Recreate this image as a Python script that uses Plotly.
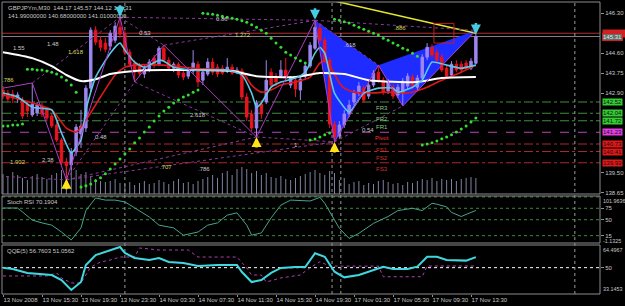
import plotly.graph_objects as go

# ---------------- data ----------------
header1 = "GBPJPYm,M30  144.17 145.57 144.12 145.31"
header2 = "141.99000000 140.68000000 141.01000000"
stoch_title = "Stoch RSI 70.1904"
qqe_title = "QQE(5) 56.7603 51.0562"

time_labels = ["13 Nov 2008", "13 Nov 15:30", "13 Nov 19:30", "13 Nov 23:30", "14 Nov 03:30",
               "14 Nov 07:30", "14 Nov 11:30", "14 Nov 15:30", "14 Nov 19:30", "17 Nov 01:30",
               "17 Nov 05:30", "17 Nov 09:30", "17 Nov 13:30"]
label_bars = [0, 8, 16, 24, 32, 40, 48, 56, 64, 72, 80, 88, 96]

opens = [143.03, 142.90, 142.86, 142.65, 142.60, 142.43, 141.97, 142.05, 142.35, 142.18,
         141.92, 141.54, 140.90, 139.97, 139.84, 140.39, 141.16, 141.41, 143.11, 145.58,
         145.15, 145.03, 144.90, 145.15, 145.70, 145.41, 144.64, 144.18, 144.05, 143.71,
         143.88, 144.39, 144.13, 144.81, 144.30, 143.96, 144.13, 143.75, 143.62, 143.84,
         144.13, 143.45, 143.71, 144.22, 144.00, 143.96, 143.84, 144.00, 143.75, 143.84,
         142.73, 142.01, 141.41, 142.43, 142.52, 143.79, 143.62, 143.62, 143.88, 143.24,
         143.45, 143.03, 143.62, 144.05, 144.81, 145.66, 145.15, 144.30, 141.58, 141.07,
         141.54, 142.01, 142.52, 142.90, 143.11, 142.77, 143.24, 143.79, 143.45, 142.99,
         143.15, 142.82, 142.90, 143.20, 143.58, 143.15, 143.54, 144.43, 144.85, 144.64,
         144.43, 143.96, 143.67, 144.13, 144.13, 144.18, 143.96, 144.17]
highs = [143.20, 143.03, 143.03, 142.94, 142.73, 142.56, 143.33, 142.52, 142.48, 142.30,
         142.05, 141.67, 140.99, 140.14, 140.56, 141.58, 142.18, 143.24, 145.70, 145.75,
         145.32, 145.24, 145.58, 145.92, 146.13, 145.58, 144.77, 144.30, 144.18, 144.09,
         144.35, 144.52, 144.90, 144.94, 144.43, 144.22, 144.22, 143.88, 144.00, 144.73,
         144.26, 143.96, 144.39, 144.39, 144.13, 144.09, 144.39, 144.13, 144.00, 143.96,
         142.90, 142.18, 142.60, 142.60, 144.30, 143.96, 143.75, 144.30, 144.39, 143.62,
         143.58, 143.62, 144.22, 145.07, 146.00, 145.87, 145.28, 144.43, 141.71, 141.71,
         142.18, 142.60, 143.03, 143.37, 143.24, 143.45, 143.88, 144.09, 143.58, 143.50,
         143.28, 143.28, 143.54, 143.75, 143.71, 143.67, 144.56, 145.03, 144.98, 144.77,
         144.56, 144.09, 144.26, 144.30, 144.26, 144.30, 144.39, 145.57]
lows = [142.65, 142.52, 142.48, 142.48, 141.80, 141.88, 141.88, 141.92, 141.88, 141.71,
        141.41, 140.82, 139.84, 139.20, 139.63, 140.22, 140.56, 141.24, 142.94, 144.94,
        144.68, 144.64, 144.73, 145.03, 145.24, 144.52, 144.00, 143.37, 143.62, 143.54,
        143.79, 143.96, 144.05, 144.22, 143.84, 143.79, 143.54, 143.45, 143.50, 143.71,
        143.15, 143.24, 143.62, 143.67, 143.58, 143.67, 143.75, 143.67, 143.71, 142.60,
        141.71, 141.28, 141.03, 141.80, 142.43, 143.11, 143.20, 143.54, 143.45, 143.11,
        142.73, 142.60, 143.45, 143.96, 144.73, 145.07, 144.18, 141.41, 140.82, 140.95,
        141.41, 141.88, 142.39, 142.77, 142.48, 142.65, 143.15, 143.33, 142.82, 142.86,
        142.65, 142.69, 142.35, 143.07, 143.07, 143.03, 143.45, 144.30, 144.43, 144.22,
        143.79, 143.54, 143.58, 143.79, 143.79, 143.88, 143.88, 144.12]
closes = [142.77, 142.65, 142.69, 142.82, 141.92, 142.14, 142.43, 142.39, 142.01, 141.84,
          141.50, 140.90, 139.97, 139.80, 140.39, 141.45, 141.50, 143.11, 145.58, 145.07,
          144.85, 144.77, 145.45, 145.75, 145.41, 144.64, 144.13, 143.79, 143.75, 143.96,
          144.22, 144.09, 144.81, 144.30, 143.96, 144.13, 143.67, 143.58, 143.88, 144.18,
          143.37, 143.79, 144.22, 143.79, 143.71, 143.75, 144.00, 143.75, 143.88, 142.73,
          141.88, 141.41, 142.48, 142.01, 143.45, 143.24, 143.37, 143.88, 143.54, 143.54,
          143.07, 143.50, 144.05, 144.94, 145.70, 145.15, 144.30, 141.58, 141.03, 141.54,
          142.01, 142.39, 142.90, 143.20, 142.60, 143.24, 143.75, 143.45, 142.94, 143.37,
          142.77, 143.15, 143.41, 143.62, 143.20, 143.54, 144.43, 144.85, 144.52, 144.30,
          143.88, 143.62, 144.13, 143.88, 143.88, 143.96, 144.26, 145.31]
volumes = [200, 180, 220, 190, 160, 140, 180, 200, 170, 150, 190, 210, 240,
           270, 260, 240, 200, 220, 180, 150, 130,
           120, 130, 150, 110, 100, 120, 90, 110, 130, 100, 110, 140, 120, 100, 130, 150, 110, 120, 100, 130,
           150, 170, 190, 160, 210, 230, 190, 250,
           270, 250, 210, 230, 190, 210, 170, 160, 180, 150, 140, 160,
           180, 200, 220, 240, 210, 190, 230, 210, 140, 160,
           100, 120, 130, 90, 110, 100, 130, 140, 120, 100, 110, 90, 120, 110, 130,
           150, 140, 160, 130, 150, 140, 150, 130, 150, 160, 170, 160]

sar = [141.50, 141.50, 141.54, 141.54, 141.58,
       143.92, 143.92, 143.88, 143.88, 143.84, 143.79, 143.71, 143.58, 143.45, 143.24, 142.94,
       138.90, 138.95, 139.03, 139.16, 139.29, 139.46, 139.67, 139.88, 140.09, 140.31, 140.52,
       140.78, 140.99, 141.24, 141.45, 141.71, 141.92, 142.14, 142.30, 142.48, 142.60, 142.73,
       142.82, 142.94, 143.03,
       146.30, 146.28, 146.26, 146.22, 146.17, 146.13, 146.09, 146.05, 145.98, 145.92, 145.81,
       145.70, 145.58, 145.45, 145.24, 145.03, 144.85, 144.64, 144.52, 144.39, 144.28, 144.18,
       140.90, 140.94, 141.03, 141.12, 141.20,
       146.05, 146.00, 145.94, 145.88, 145.79, 145.70, 145.62, 145.53, 145.45, 145.37, 145.24,
       145.15, 145.03, 144.94, 144.81, 144.73, 144.60, 144.47,
       140.69, 140.73, 140.78, 140.86, 140.95, 141.03, 141.12, 141.24, 141.37, 141.50, 141.67, 141.84]

white_b = [0, 6, 10, 13, 16, 19, 22, 27, 33, 47, 52, 60, 65, 70, 75, 85, 90, 97]
white_p = [144.64, 144.39, 144.05, 143.67, 143.41, 143.49, 143.71, 143.84, 143.88, 143.84,
           143.62, 143.58, 143.75, 143.71, 143.45, 143.37, 143.54, 143.58]
red_b = [0, 6, 10, 13, 15, 17, 20, 23, 25, 27, 33, 39, 49, 51, 53, 55, 57, 60, 63, 64, 65, 66,
         67, 68, 69, 70, 72, 75, 79, 83, 87, 90, 94, 97]
red_p = [142.82, 142.48, 142.18, 141.41, 141.24, 141.75, 142.73, 143.67, 144.00, 144.09, 144.09,
         143.96, 143.79, 143.24, 142.94, 143.03, 143.24, 143.37, 143.58, 143.88, 144.18, 144.26,
         144.09, 143.71, 143.33, 143.11, 142.94, 142.90, 142.94, 142.90, 143.15, 143.45, 143.79, 144.09]
cyan_b = [0, 3, 6, 10, 12, 14, 16, 17, 19, 22, 24, 25, 27, 29, 32, 33, 35, 39, 46, 49, 51, 52, 53,
          55, 57, 60, 62, 64, 65, 66, 68, 71, 74, 77, 80, 81, 84, 86, 88, 91, 94, 97]
cyan_p = [142.90, 142.73, 142.30, 142.18, 141.20, 140.35, 140.90, 142.18, 143.58, 144.60, 145.03,
          144.73, 144.22, 144.00, 144.30, 144.26, 144.00, 143.88, 143.88, 143.67, 142.90, 142.30,
          142.48, 143.15, 143.37, 143.54, 143.79, 144.60, 144.85, 144.60, 142.90, 142.09, 142.90,
          143.11, 143.11, 142.94, 143.15, 143.45, 144.22, 144.09, 143.96, 144.09]

zz_b = [0, 6, 13, 24, 27, 33, 52, 64, 68, 77, 82, 97]
zz_p = [143.11, 143.33, 139.20, 146.13, 143.37, 144.94, 141.03, 146.00, 140.82, 144.09, 142.35, 145.57]
fib_pairs = [(1, 3), (2, 4), (3, 5), (4, 6), (5, 7), (6, 8), (7, 9), (8, 10), (3, 7), (7, 11), (2, 6), (2, 8)]
fib_ext_b = [-8]
fib_ext_p = [139.45]
tri1 = [7, 8, 9]
tri2 = [9, 10, 11]

fib_text = ["1.55", "1.48", "1.618", ".786", "0.53", "0.86", "1.272", ".618", ".886", "2.618",
            "0.48", "1.902", "2.38", ".707", ".786", "1", "0.54"]
fib_bar = [3.2, 10.3, 15, 1, 29.1, 44.9, 49.2, 71.2, 81.4, 40, 20.1, 3.1, 9.2, 33.4, 41.2, 60, 74.9]
fib_price = [144.81, 144.98, 144.64, 143.45, 145.45, 146.05, 145.37, 144.94, 145.66, 141.97,
             141.03, 139.97, 140.05, 139.76, 139.67, 140.69, 141.33]
fib_yellow = [False, False, True, True, False, False, True, False, True, False,
              False, True, False, True, False, False, False]

yl_b = [60, 97]
yl_p = [147.20, 145.45]
box_b = [88.4, 92.5]
box_p = [145.03, 145.87]

dn_bars = [24, 64, 97]
dn_prices = [146.15, 146.02, 145.40]
up_bars = [13, 52, 68]
up_prices = [139.25, 141.03, 140.82]

level_vals = [142.52, 142.04, 141.72, 141.23, 140.73, 140.41, 139.93]
level_names = ["FR3", "FR2", "FR1", "Pivot", "FS1", "FS2", "FS3"]
level_kind = ["R", "R", "R", "P", "S", "S", "S"]
red_line_val = 145.45
bid_val = 145.31

price_ticks = [146.30, 144.60, 143.75, 142.90, 139.50, 138.65]
vlines = [25, 67.5, 69.3, 117.3]

stoch_b = [0, 3, 4, 6, 8, 10, 12, 14, 16, 17, 19, 21, 23, 25, 27, 30, 32, 35, 37, 39, 40, 42, 44,
           46, 48, 50, 51, 53, 55, 57, 59, 63, 65, 66, 69, 71, 73, 76, 79, 81, 84, 86, 88, 89, 91,
           92, 94, 96, 97]
stoch_v = [75.6, 75.6, 67, 49, 43, 38, 23, 5.5, 32, 70, 97.6, 93, 93, 89, 76, 56, 38, 32, 16, 21,
           23, 38, 43, 60, 65, 38, 16, 21, 54, 82, 93, 91, 99, 86, 31, 9, 20, 42, 57, 70, 75, 70,
           86, 84, 78, 66, 57, 66, 70.19]
stoch_levels = [100, 75, 50, 15]
stoch_range = [-1.1325, 101.9636]

qqe_b = [0, 2, 5, 8, 10, 12, 14, 16, 17, 19, 21, 24, 25, 27, 30, 32, 34, 37, 40, 44, 48, 49, 51,
         53, 55, 57, 60, 62, 64, 66, 68, 70, 73, 75, 78, 80, 83, 85, 87, 89, 91, 95, 97]
qqe_v = [50.0, 49.1, 46.6, 45.9, 45.3, 42.1, 35.7, 40.8, 51.7, 58.1, 60.0, 63.2, 59.4, 56.2, 54.9,
         56.2, 53.6, 53.0, 51.1, 51.7, 51.7, 47.2, 40.8, 42.1, 46.6, 49.8, 50.4, 50.4, 59.2, 57.0,
         47.4, 43.8, 45.3, 47.4, 50.6, 49.1, 49.1, 50.6, 57.0, 57.0, 54.9, 54.5, 56.76]
sig_b = [0, 9, 11, 12, 14, 16, 18, 20, 22, 24, 27, 28, 32, 38, 40, 48, 50, 51, 53, 54, 57, 61, 63,
         65, 67, 77, 78, 86, 87, 97]
sig_v = [44.7, 44.7, 46.6, 43.4, 40.2, 40.2, 50.4, 53.6, 54.9, 56.8, 56.8, 62.6, 61.3, 61.3, 56.8,
         56.8, 49.8, 45.3, 45.3, 40.8, 43.4, 45.3, 50.0, 53.8, 51.0, 51.0, 44.2, 44.2, 51.06, 51.06]
qqe_range = [33.1453, 64.4967]

# ---------------- styling ----------------
BULL = "#9C86EE"
BEAR = "#E8141E"
TXT = "#C8C8C8"
FRAME = "#8C8C8C"
FONT = "Arial, Liberation Sans, sans-serif"

PL, PR, PT, PB = 2, 600, 2, 294
def xp(px):
    return (px - PL) / (PR - PL)
def yp(py):
    return (PB - py) / (PB - PT)

dom_price = [yp(194), 1.0]
dom_stoch = [yp(243), yp(196)]
dom_qqe = [0.0, yp(245)]
bar_px = 4.875
x0 = -(3 - PL) / bar_px
x_range = [x0, x0 + (PR - PL) / bar_px]

n = len(opens)
bars = list(range(n))
fig = go.Figure()

# volume (bottom layer, on its own hidden axis)
vx, vy = [], []
for i, v in enumerate(volumes):
    vx += [i, i, None]
    vy += [0, v, None]
fig.add_trace(go.Scatter(x=vx, y=vy, mode="lines", line=dict(color="#7F829E", width=1),
                         xaxis="x", yaxis="y", hoverinfo="skip"))

# candles
fig.add_trace(go.Candlestick(x=bars, open=opens, high=highs, low=lows, close=closes,
                             xaxis="x", yaxis="y2", whiskerwidth=0, hoverinfo="skip",
                             increasing=dict(line=dict(color=BULL, width=1), fillcolor=BULL),
                             decreasing=dict(line=dict(color=BEAR, width=1), fillcolor=BEAR)))

# yellow trend line
fig.add_trace(go.Scatter(x=yl_b, y=yl_p, mode="lines", line=dict(color="#E6E62E", width=1.5),
                         xaxis="x", yaxis="y2", hoverinfo="skip"))

# fib dotted connectors
fx, fy = [], []
for a, b in fib_pairs:
    fx += [zz_b[a], zz_b[b], None]
    fy += [zz_p[a], zz_p[b], None]
fx += [fib_ext_b[0], zz_b[2], None]
fy += [fib_ext_p[0], zz_p[2], None]
fig.add_trace(go.Scatter(x=fx, y=fy, mode="lines", line=dict(color="#8A3A9A", width=1, dash="dot"),
                         xaxis="x", yaxis="y2", hoverinfo="skip"))

# moving averages
fig.add_trace(go.Scatter(x=red_b, y=red_p, mode="lines",
                         line=dict(color="#E01818", width=1.6, shape="spline", smoothing=0.6),
                         xaxis="x", yaxis="y2", hoverinfo="skip"))
fig.add_trace(go.Scatter(x=white_b, y=white_p, mode="lines",
                         line=dict(color="#FFFFFF", width=2, shape="spline", smoothing=0.6),
                         xaxis="x", yaxis="y2", hoverinfo="skip"))
fig.add_trace(go.Scatter(x=cyan_b, y=cyan_p, mode="lines",
                         line=dict(color="#5CC8E6", width=1.6, shape="spline", smoothing=0.5),
                         xaxis="x", yaxis="y2", hoverinfo="skip"))

# zigzag
fig.add_trace(go.Scatter(x=zz_b, y=zz_p, mode="lines", line=dict(color="#B03CC8", width=1),
                         xaxis="x", yaxis="y2", hoverinfo="skip"))

# parabolic SAR
fig.add_trace(go.Scatter(x=bars, y=sar, mode="markers",
                         marker=dict(color="#33DD33", size=3, line=dict(width=0)),
                         xaxis="x", yaxis="y2", hoverinfo="skip"))

# stoch RSI
fig.add_trace(go.Scatter(x=stoch_b, y=stoch_v, mode="lines", line=dict(color="#46A58C", width=1),
                         xaxis="x", yaxis="y3", hoverinfo="skip"))
# QQE
fig.add_trace(go.Scatter(x=sig_b, y=sig_v, mode="lines",
                         line=dict(color="#B040B0", width=1, dash="dot"),
                         xaxis="x", yaxis="y4", hoverinfo="skip"))
fig.add_trace(go.Scatter(x=qqe_b, y=qqe_v, mode="lines", line=dict(color="#40D8E0", width=2),
                         xaxis="x", yaxis="y4", hoverinfo="skip"))

# ---------------- shapes ----------------
shapes = []
def tri_path(idx):
    pts = [(zz_b[k], zz_p[k]) for k in idx]
    return "M {},{} L {},{} L {},{} Z".format(pts[0][0], pts[0][1], pts[1][0], pts[1][1],
                                            pts[2][0], pts[2][1])
for t in (tri1, tri2):
    shapes.append(dict(type="path", path=tri_path(t), xref="x", yref="y2",
                       fillcolor="#1E2CFF", line=dict(width=0), layer="below"))

lvl_style = {"R": ("#3F8F3F", "dashdot"), "P": ("#C040C0", "dash"), "S": ("#B02828", "dashdot")}
for v, k in zip(level_vals, level_kind):
    c, d = lvl_style[k]
    shapes.append(dict(type="line", xref="paper", x0=0, x1=1, yref="y2", y0=v, y1=v,
                       line=dict(color=c, width=1, dash=d), layer="below"))
shapes.append(dict(type="line", xref="paper", x0=0, x1=1, yref="y2", y0=red_line_val, y1=red_line_val,
                   line=dict(color="#B03030", width=1), layer="below"))
shapes.append(dict(type="line", xref="paper", x0=0, x1=1, yref="y2", y0=bid_val, y1=bid_val,
                   line=dict(color="#8A7A88", width=1), layer="below"))
for v in stoch_levels:
    shapes.append(dict(type="line", xref="paper", x0=0, x1=1, yref="y3", y0=v, y1=v,
                       line=dict(color="#3A8A3A", width=1, dash="dot"), layer="below"))
shapes.append(dict(type="line", xref="paper", x0=0, x1=1, yref="y4", y0=50, y1=50,
                   line=dict(color="#FFFFFF", width=1, dash="dot"), layer="below"))
for b in vlines:
    shapes.append(dict(type="line", xref="x", x0=b, x1=b, yref="paper", y0=0, y1=1,
                       line=dict(color="#9A9A9A", width=1, dash="dot"), layer="below"))
shapes.append(dict(type="rect", xref="x", x0=box_b[0], x1=box_b[1], yref="y2", y0=box_p[0], y1=box_p[1],
                   line=dict(color="#C02020", width=1), fillcolor="rgba(0,0,0,0)"))
for d in (dom_price, dom_stoch, dom_qqe):
    shapes.append(dict(type="rect", xref="paper", x0=0, x1=1, yref="paper", y0=d[0], y1=d[1],
                       line=dict(color=FRAME, width=1), fillcolor="rgba(0,0,0,0)"))

# ---------------- annotations ----------------
ann = []
ann.append(dict(text=header1, xref="paper", yref="paper", x=xp(6), y=yp(8), xanchor="left",
                yanchor="middle", showarrow=False, font=dict(size=6, color=TXT)))
ann.append(dict(text=header2, xref="paper", yref="paper", x=xp(6), y=yp(15.5), xanchor="left",
                yanchor="middle", showarrow=False, font=dict(size=6, color=TXT)))
ann.append(dict(text=stoch_title, xref="paper", yref="paper", x=xp(5), y=yp(202), xanchor="left",
                yanchor="middle", showarrow=False, font=dict(size=6, color=TXT)))
ann.append(dict(text=qqe_title, xref="paper", yref="paper", x=xp(5), y=yp(250.5), xanchor="left",
                yanchor="middle", showarrow=False, font=dict(size=6, color=TXT)))

for t, b, p, yel in zip(fib_text, fib_bar, fib_price, fib_yellow):
    ann.append(dict(text=t, x=b, y=p, xref="x", yref="y2", showarrow=False,
                    font=dict(size=6, color="#D8D860" if yel else TXT)))

name_col = {"R": "#8CC88C", "P": "#FF3030", "S": "#D03030"}
for v, nm, k in zip(level_vals, level_names, level_kind):
    ann.append(dict(text=nm, x=77.7, y=v, xref="x", yref="y2", yanchor="top", yshift=-1,
                    showarrow=False, font=dict(size=6, color=name_col[k])))

box_bg = {"R": "#33CC33", "P": "#E63CE6", "S": "#E01818"}
# red level marker peeking above the bid label (box only)
ann.append(dict(text=" ", xref="paper", x=1, xanchor="left", xshift=2, yref="y2", y=red_line_val,
                width=22, height=7, showarrow=False, bgcolor="#D02020", borderpad=0,
                font=dict(size=6, color="#D02020")))
ann.append(dict(text="{:.2f}".format(bid_val), xref="paper", x=1, xanchor="left", xshift=2, yref="y2",
                y=bid_val, showarrow=False, bgcolor="#6A6A6A", bordercolor="#D02020", borderwidth=1,
                borderpad=0, font=dict(size=6, color="#E8E8E8")))
for v, k in zip(level_vals, level_kind):
    ann.append(dict(text="{:.2f}".format(v), xref="paper", x=1, xanchor="left", xshift=2, yref="y2", y=v,
                    showarrow=False, bgcolor=box_bg[k], borderpad=0, font=dict(size=6, color="#101010")))

edge_font = dict(size=5.4, color=TXT)
ann.append(dict(text="{:.4f}".format(stoch_range[1]), xref="paper", x=1, xanchor="left", xshift=1,
                yref="y3", y=stoch_range[1], yanchor="top", showarrow=False, font=edge_font))
ann.append(dict(text="{:.4f}".format(stoch_range[0]), xref="paper", x=1, xanchor="left", xshift=1,
                yref="y3", y=stoch_range[0], yanchor="bottom", yshift=-2.5, showarrow=False, font=edge_font))
ann.append(dict(text="{:.4f}".format(qqe_range[1]), xref="paper", x=1, xanchor="left", xshift=1,
                yref="y4", y=qqe_range[1], yanchor="top", showarrow=False, font=edge_font))
ann.append(dict(text="{:.4f}".format(qqe_range[0]), xref="paper", x=1, xanchor="left", xshift=1,
                yref="y4", y=qqe_range[0], yanchor="bottom", showarrow=False, font=edge_font))

for b, p in zip(dn_bars, dn_prices):
    ann.append(dict(text="", x=b, y=p, xref="x", yref="y2", showarrow=True, ax=0, ay=-13,
                    arrowhead=2, arrowsize=0.8, arrowwidth=2.5, arrowcolor="#45CCE0", standoff=0))
for b, p in zip(up_bars, up_prices):
    ann.append(dict(text="", x=b, y=p, xref="x", yref="y2", showarrow=True, ax=0, ay=12,
                    arrowhead=2, arrowsize=0.8, arrowwidth=2.5, arrowcolor="#FFE21A", standoff=0))

axis_common = dict(showgrid=False, zeroline=False, showline=False, ticks="outside", ticklen=3,
                   tickcolor="#909090", tickfont=dict(size=6, color=TXT, family=FONT), automargin=False)

fig.update_layout(
    width=625, height=306, template="none",
    margin=dict(l=PL, r=625 - PR, t=PT, b=306 - PB),
    paper_bgcolor="black", plot_bgcolor="black",
    showlegend=False, hovermode=False,
    boxgap=0.5, boxgroupgap=0,
    font=dict(family=FONT, size=6, color=TXT),
    xaxis=dict(domain=[0, 1], range=x_range, anchor="y4", tickvals=label_bars, ticktext=time_labels,
               ticklabelposition="outside right", tickangle=0, rangeslider=dict(visible=False),
               **{**axis_common, "ticklen": 2}),
    yaxis=dict(domain=dom_price, range=[0, 1920], visible=False, fixedrange=True, anchor="x"),
    yaxis2=dict(overlaying="y", anchor="x", side="right", range=[138.60, 146.78],
                tickvals=price_ticks, ticktext=["{:.2f}".format(v) for v in price_ticks], **axis_common),
    yaxis3=dict(domain=dom_stoch, anchor="x", side="right", range=stoch_range,
                tickvals=[75, 50, 15], ticktext=["75", "50", "15"], **axis_common),
    yaxis4=dict(domain=dom_qqe, anchor="x", side="right", range=qqe_range,
                tickvals=[50], ticktext=["50"], **axis_common),
    shapes=shapes, annotations=ann,
)

fig.write_html("out.html", config={"displayModeBar": False})
